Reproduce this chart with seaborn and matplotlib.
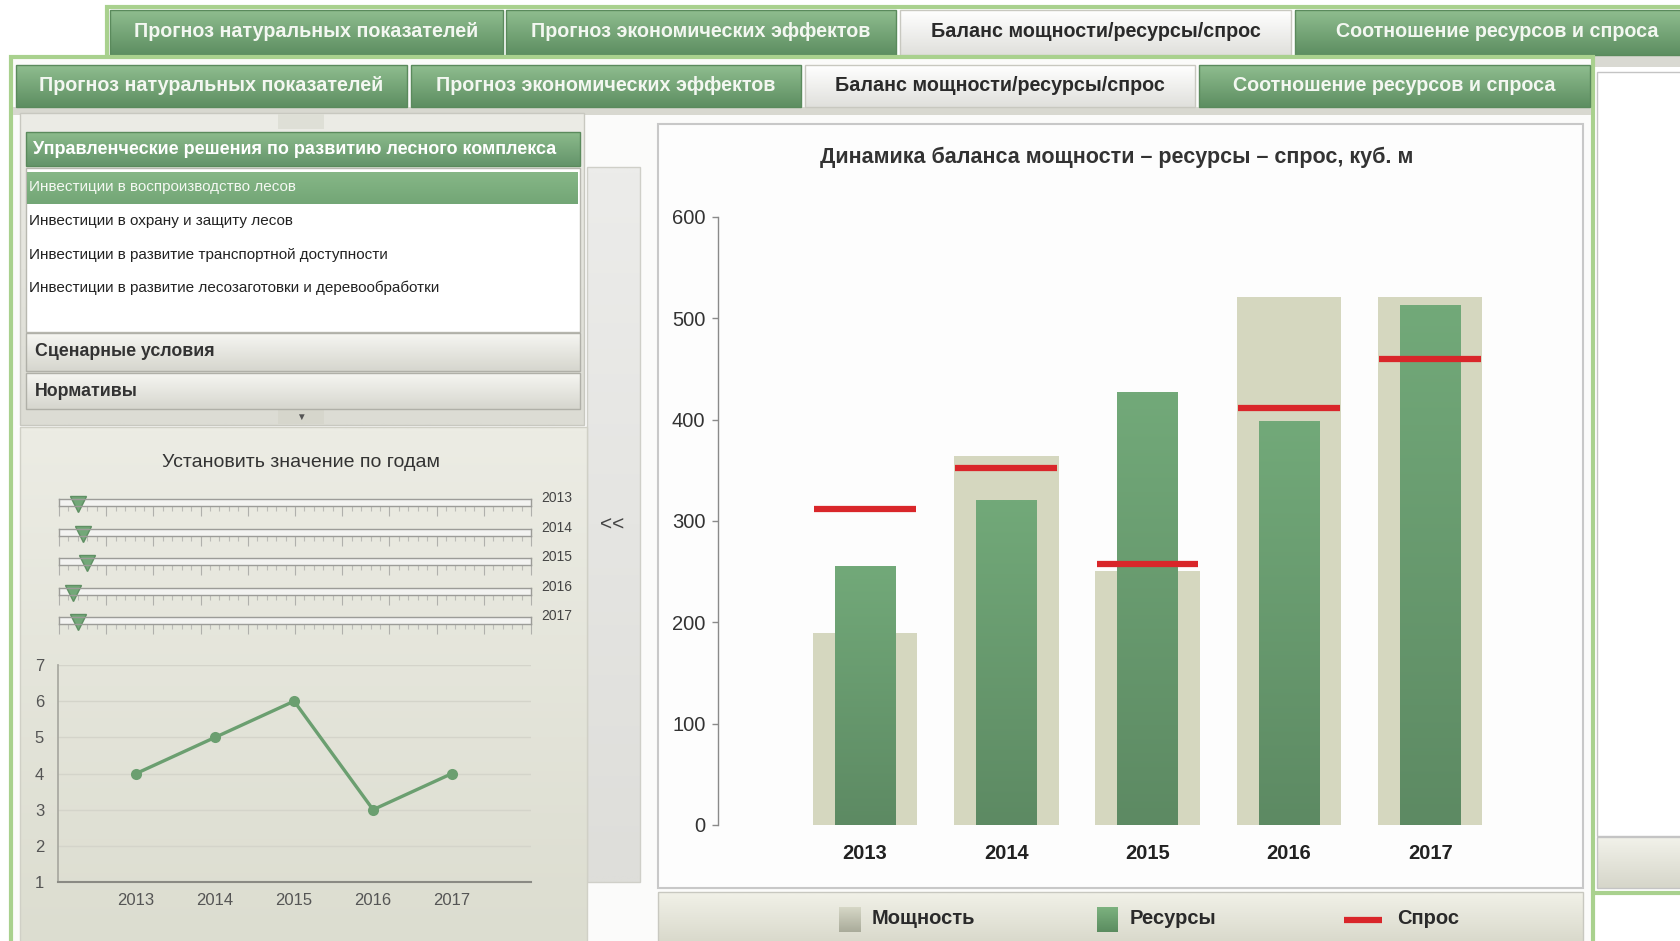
import numpy as np
import matplotlib.pyplot as plt
import matplotlib.patches as mpatches
import matplotlib.colors as mcolors
from matplotlib.ticker import MultipleLocator
import seaborn as sns

sns.set_theme(style='white')
plt.rcParams['font.family'] = ['Liberation Sans', 'DejaVu Sans']

W, H = 1681, 941

# Data ----------------------
years = ['2013', '2014', '2015', '2016', '2017']
capacity = [189, 364, 251, 521, 521]
resources = [256, 321, 427, 399, 513]
demand = [312, 352, 258, 412, 460]
year_values = [4, 5, 6, 3, 4]
slider_values = [4, 5, 6, 3, 4]

tab_labels = ['Прогноз натуральных показателей', 'Прогноз экономических эффектов',
              'Баланс мощности/ресурсы/спрос', 'Соотношение ресурсов и спроса']
menu_header = 'Управленческие решения по развитию лесного комплекса'
menu_items = ['Инвестиции в воспроизводство лесов', 'Инвестиции в охрану и защиту лесов',
              'Инвестиции в развитие транспортной доступности',
              'Инвестиции в развитие лесозаготовки и деревообработки']
chart_title = 'Динамика баланса мощности – ресурсы – спрос, куб. м'
legend_labels = ['Мощность', 'Ресурсы', 'Спрос']

GREEN_T, GREEN_B = '#8fbd8f', '#5d8e61'
BORDER = '#a9d18e'

fig = plt.figure(figsize=(W / 100, H / 100), dpi=100, facecolor='white')
bg = fig.add_axes([0, 0, 1, 1])
bg.set_xlim(0, W)
bg.set_ylim(H, 0)
bg.set_autoscale_on(False)
bg.axis('off')


def px_axes(x0, y0, x1, y1):
    return fig.add_axes([x0 / W, 1 - y1 / H, (x1 - x0) / W, (y1 - y0) / H])


def gbox(x0, y0, x1, y1, top, bot, z=1, edge=None, lw=1):
    c0 = np.array(mcolors.to_rgb(top))
    c1 = np.array(mcolors.to_rgb(bot))
    t = np.linspace(0, 1, 64)[:, None]
    img = (c0 * (1 - t) + c1 * t)[:, None, :]
    bg.imshow(img, extent=(x0, x1, y1, y0), aspect='auto', interpolation='bilinear', zorder=z)
    if edge:
        bg.add_patch(mpatches.Rectangle((x0, y0), x1 - x0, y1 - y0, fill=False, ec=edge, lw=lw, zorder=z + 0.1))


def box(x0, y0, x1, y1, fc, ec='none', lw=1, z=1):
    bg.add_patch(mpatches.Rectangle((x0, y0), x1 - x0, y1 - y0, fc=fc, ec=ec, lw=lw, zorder=z))


def tab(x0, x1, y0, y1, text, active, z):
    if active:
        gbox(x0, y0, x1, y1, '#ffffff', '#e0e0dc', z, edge='#c8c8c0')
        bg.text((x0 + x1) / 2, (y0 + y1) / 2 - 1, text, ha='center', va='center',
                fontsize=14.2, fontweight='bold', color='#2a2a2a', zorder=z + 1)
    else:
        gbox(x0, y0, x1, y1, GREEN_T, GREEN_B, z, edge='#5a8a5c')
        bg.text((x0 + x1) / 2, (y0 + y1) / 2 - 1, text, ha='center', va='center',
                fontsize=14.2, fontweight='bold', color='#f3f7f1', zorder=z + 1)


# Back window ----------------------
box(107, 7, 1700, 893, 'white', BORDER, 3, z=1)
for (x0, x1), lab, act in zip([(110, 503), (506, 896), (900, 1291), (1295, 1700)], tab_labels,
                              [False, False, True, False]):
    tab(x0, x1, 10, 55, lab, act, 2)
box(109, 55, 1700, 67, '#d9d9d2', z=2)
box(1597, 72, 1700, 836, 'white', '#c4c4c4', 1, z=2)
gbox(1597, 837, 1700, 888, '#f2f2ea', '#d6d6ca', 2, edge='#c4c4c4')

# Front window ----------------------
box(11, 57, 1593, 960, '#fbfbfa', BORDER, 3, z=5)
for (x0, x1), lab, act in zip([(16, 407), (411, 801), (805, 1195), (1199, 1590)], tab_labels,
                              [False, False, True, False]):
    tab(x0, x1, 65, 107, lab, act, 6)
box(13, 107, 1591, 115, '#d8d8d0', z=6)

# Accordion panel
gbox(20, 113, 584, 425, '#ecece6', '#dcdcd4', 7, edge='#c8c8c0')
box(278, 114, 324, 129, '#dedfd6', z=7.5)
gbox(26, 132, 580, 166, '#8cbb8c', '#64946a', 8, edge='#5a8a5c')
bg.text(33, 149, menu_header, ha='left', va='center', fontsize=13, fontweight='bold',
        color='white', zorder=9)
box(26, 168, 580, 332, 'white', '#b8b8b0', 1, z=8)
gbox(27, 172, 578, 204, '#86b787', '#73a676', 8.5)
for i, (item, yc) in enumerate(zip(menu_items, [187, 221, 255, 288])):
    bg.text(29, yc, item, ha='left', va='center', fontsize=11,
            color='#f4f8f2' if i == 0 else '#222222', zorder=9)
gbox(26, 333, 580, 371, '#f6f6f2', '#d6d6ce', 8, edge='#b0b0a8')
bg.text(35, 352, 'Сценарные условия', ha='left', va='center', fontsize=12.8,
        fontweight='bold', color='#333333', zorder=9)
gbox(26, 373, 580, 409, '#f6f6f2', '#d6d6ce', 8, edge='#b0b0a8')
bg.text(35, 391, 'Нормативы', ha='left', va='center', fontsize=12.8,
        fontweight='bold', color='#333333', zorder=9)
box(278, 410, 324, 424, '#d6d6cc', z=8)
bg.text(301, 417, '▼', ha='center', va='center', fontsize=7, color='#555555', zorder=9)

# Lower left panel
gbox(20, 427, 587, 945, '#ecece4', '#dcddd0', 7, edge='#d0d0c6')
bg.text(301, 462, 'Установить значение по годам', ha='center', va='center',
        fontsize=14, color='#333333', zorder=9)

# Collapse strip
gbox(587, 167, 640, 882, '#ececea', '#dededa', 6.5, edge='#cfcfc8')
bg.text(612, 525, '<<', ha='center', va='center', fontsize=15, color='#444444', zorder=9)

# Main chart panel + legend bar
box(658, 124, 1583, 888, '#fdfdfd', '#c8c8c8', 1.5, z=6.5)
gbox(658, 892, 1583, 945, '#f1f1e8', '#d8d8ca', 6.5, edge='#c8c8c0')
bg.text(1117, 157, chart_title, ha='center', va='center', fontsize=15.5,
        fontweight='bold', color='#333333', zorder=9)

# Legend
gbox(839, 907, 861, 932, '#d6d7c6', '#a9ab9a', 8)
bg.text(872, 919, legend_labels[0], ha='left', va='center', fontsize=14.5,
        fontweight='bold', color='#2a2a2a', zorder=9)
gbox(1097, 907, 1118, 932, '#7cb27f', '#5b8c60', 8)
bg.text(1130, 919, legend_labels[1], ha='left', va='center', fontsize=14.5,
        fontweight='bold', color='#2a2a2a', zorder=9)
bg.plot([1344, 1382], [920, 920], color='#d9262a', lw=4.5, solid_capstyle='butt', zorder=9)
bg.text(1397, 919, legend_labels[2], ha='left', va='center', fontsize=14.5,
        fontweight='bold', color='#2a2a2a', zorder=9)

# Sliders ----------------------
slider_y = [502, 532, 561, 591, 620]
for yr, val, yc in zip(years, slider_values, slider_y):
    s = px_axes(59, yc - 3.5, 531, yc + 3.5)
    s.set_facecolor('#f3f3f1')
    s.set_xlim(0, 100)
    s.set_ylim(0, 1)
    for sp in s.spines.values():
        sp.set_color('#9c9c98')
        sp.set_linewidth(1)
    s.xaxis.set_major_locator(MultipleLocator(10))
    s.xaxis.set_minor_locator(MultipleLocator(2))
    s.tick_params(axis='x', which='major', bottom=True, direction='out', length=7,
                  width=0.8, color='#b0b0ac', labelbottom=False, pad=0)
    s.tick_params(axis='x', which='minor', bottom=True, direction='out', length=3.5,
                  width=0.8, color='#bcbcb8')
    s.set_yticks([])
    s.plot([val], [0.2], marker='v', ms=11, color='#72a878', mec='#5f8f63', clip_on=False)
    bg.text(541, yc - 4, yr, ha='left', va='center', fontsize=10, color='#444444', zorder=9)

# Small line chart ----------------------
ax2 = px_axes(58, 665, 531, 882)
ax2.patch.set_alpha(0)
sns.lineplot(x=years, y=year_values, marker='o', color='#6b9f70', linewidth=2.4,
             markersize=8, markeredgewidth=0, sort=False, ax=ax2)
ax2.set_ylim(1, 7)
ax2.set_xlim(-0.99, 5.0)
ax2.set_yticks(range(1, 8))
ax2.yaxis.grid(True, color='#d4d4ca', linewidth=1)
ax2.set_axisbelow(True)
ax2.tick_params(length=0, labelsize=12, colors='#555555')
ax2.tick_params(axis='x', pad=8)
ax2.tick_params(axis='y', pad=10)
for side in ['top', 'right']:
    ax2.spines[side].set_visible(False)
ax2.spines['left'].set_color('#a8a8a0')
ax2.spines['bottom'].set_color('#8a8a84')
ax2.spines['bottom'].set_linewidth(1.5)
ax2.set_xlabel('')
ax2.set_ylabel('')

# Main bar chart ----------------------
ax = px_axes(718, 217, 1515, 825)
ax.patch.set_alpha(0)
sns.barplot(x=years, y=capacity, color='#d5d7bf', width=0.74, saturation=1,
            linewidth=0, edgecolor='none', ax=ax, zorder=2)
n_cap = len(ax.patches)
sns.barplot(x=years, y=resources, color='#68a06e', width=0.43, saturation=1,
            linewidth=0, edgecolor='none', ax=ax, zorder=3)

c0 = np.array(mcolors.to_rgb('#72a979'))
c1 = np.array(mcolors.to_rgb('#5d8a63'))
t = np.linspace(0, 1, 64)[:, None]
grad = (c0 * (1 - t) + c1 * t)[:, None, :]
for p in ax.patches[n_cap:]:
    im = ax.imshow(grad, extent=(p.get_x(), p.get_x() + p.get_width(), 0, p.get_height()),
                   aspect='auto', interpolation='bilinear', zorder=3.5)
    im.set_clip_path(p)

pos = np.arange(len(years))
ax.hlines(demand, pos - 0.36, pos + 0.36, colors='#d9262a', linewidth=4.5, zorder=5)

ax.set_xlim(-1.04, 4.6)
ax.set_ylim(0, 600)
ax.set_yticks(range(0, 601, 100))
for side in ['top', 'right', 'bottom']:
    ax.spines[side].set_visible(False)
ax.spines['left'].set_color('#8a8a8a')
ax.spines['left'].set_linewidth(1)
ax.tick_params(axis='y', left=True, length=4, width=1, color='#8a8a8a', labelsize=14.5,
               labelcolor='#333333', pad=5)
ax.tick_params(axis='x', bottom=False, length=0, labelsize=14.5, labelcolor='#222222', pad=14)
for lab in ax.get_xticklabels():
    lab.set_fontweight('bold')
ax.set_xlabel('')
ax.set_ylabel('')

bg.set_xlim(0, W)
bg.set_ylim(H, 0)

plt.savefig('out.png', dpi=100, facecolor='white')
